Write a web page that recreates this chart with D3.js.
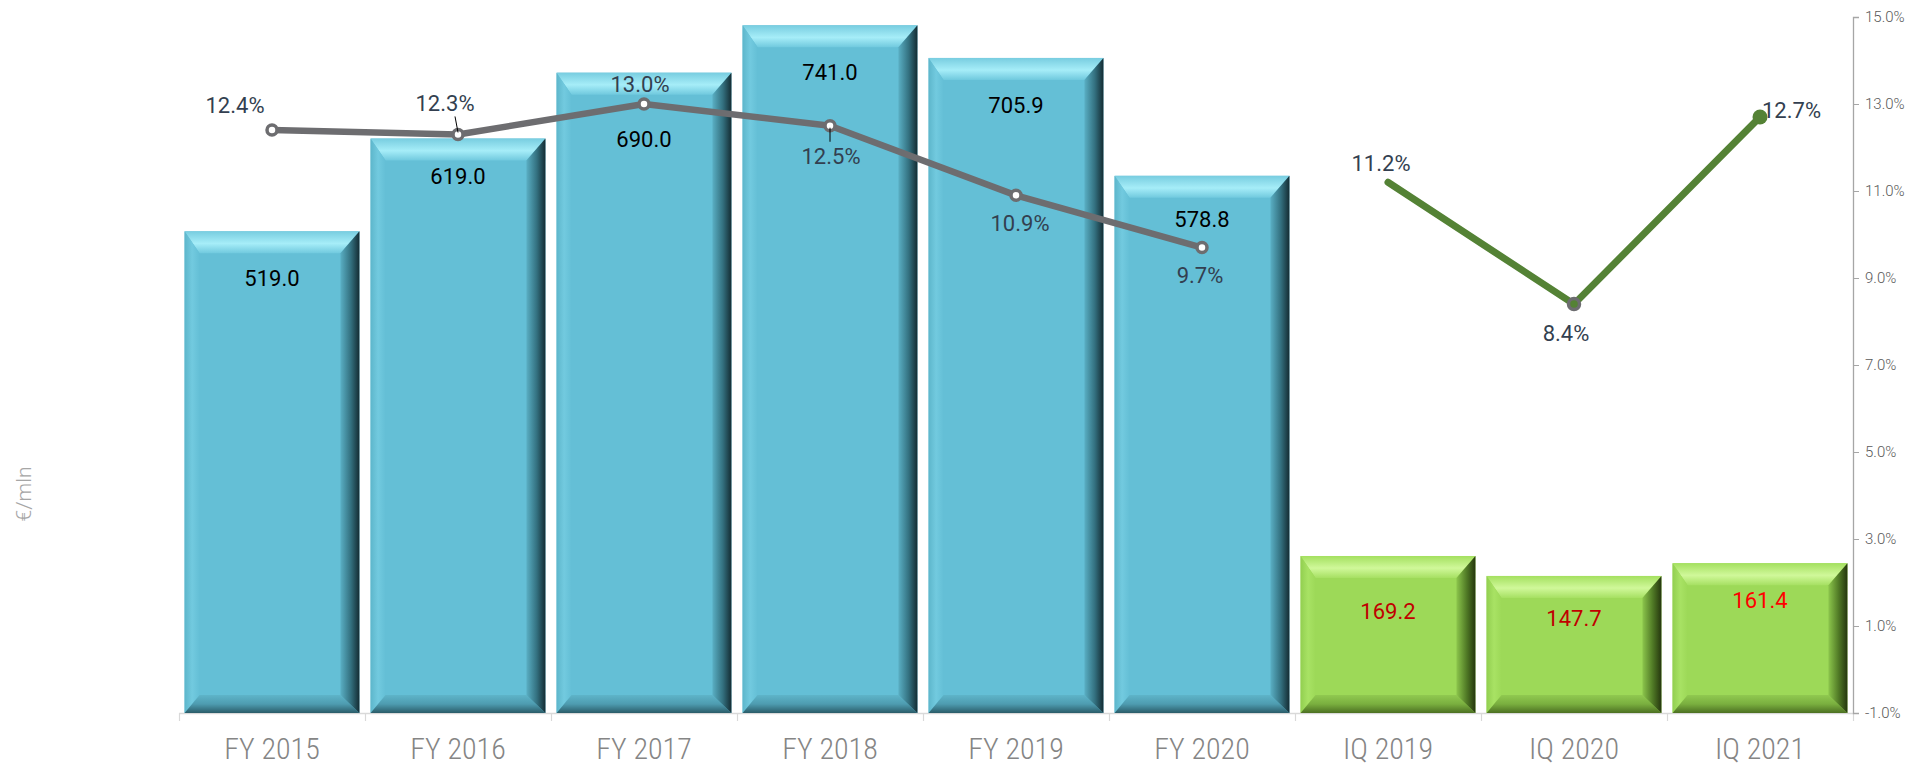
<!DOCTYPE html>
<html>
<head>
<meta charset="utf-8">
<title>Revenue and margin</title>
<script src="https://cdn.jsdelivr.net/npm/d3@7"></script>
<style>
  body { margin: 0; background: #fff; }
  text { font-family: Roboto, "Liberation Sans", sans-serif; }
</style>
</head>
<body>
<script>
// data
var categories = ["FY 2015", "FY 2016", "FY 2017", "FY 2018", "FY 2019", "FY 2020", "IQ 2019", "IQ 2020", "IQ 2021"];
var revenue = [519.0, 619.0, 690.0, 741.0, 705.9, 578.8, 169.2, 147.7, 161.4];
var yearMargin = [12.4, 12.3, 13.0, 12.5, 10.9, 9.7];
var quarterMargin = [11.2, 8.4, 12.7];
var rightTicks = [-1, 1, 3, 5, 7, 9, 11, 13, 15];

var w = 1923, h = 766,
    plotLeft = 179, plotRight = 1853, plotTop = 17, plotBottom = 713;

var x = d3.scaleBand().domain(categories).range([plotLeft, plotRight]).paddingInner(0.06).paddingOuter(0.03);
var band = d3.scaleBand().domain(categories).range([plotLeft, plotRight]);
var y = d3.scaleLinear().domain([0, 750]).range([plotBottom, plotTop]);
var yR = d3.scaleLinear().domain([-1, 15]).range([plotBottom, plotTop]);

var svg = d3.select("body").append("svg").attr("width", w).attr("height", h);
var defs = svg.append("defs");

function grad(id, x2, y2, stops) {
    var g = defs.append("linearGradient").attr("id", id)
        .attr("x1", 0).attr("y1", 0).attr("x2", x2).attr("y2", y2);
    stops.forEach(function(s) {
        g.append("stop").attr("offset", s[0]).attr("stop-color", s[1]);
    });
}

var faces = { blue: "#64bfd6", green: "#9dd958" };
grad("blueTop", 0, 1, [[0, "#78cde0"], [0.55, "#a6edf8"], [1, "#70c9de"]]);
grad("blueRight", 1, 0, [[0, "#5aafc4"], [0.55, "#33707f"], [1, "#142c33"]]);
grad("blueBottom", 0, 1, [[0, "#5eb4c9"], [0.5, "#4e9cb0"], [1, "#2a5c69"]]);
grad("blueLeft", 1, 0, [[0, "#5db6cb"], [0.5, "#72cadf"], [1, "#64bfd6"]]);
grad("greenTop", 0, 1, [[0, "#a4e05f"], [0.55, "#d0f89a"], [1, "#a6e062"]]);
grad("greenRight", 1, 0, [[0, "#8cc64c"], [0.55, "#4f7825"], [1, "#25360e"]]);
grad("greenBottom", 0, 1, [[0, "#90c950"], [0.5, "#7aaf3f"], [1, "#4c7022"]]);
grad("greenLeft", 1, 0, [[0, "#92cf50"], [0.5, "#a8e264"], [1, "#9dd958"]]);

// axes lines
svg.append("line")
    .attr("x1", plotLeft).attr("x2", plotRight).attr("y1", plotBottom + 0.5).attr("y2", plotBottom + 0.5)
    .style("stroke", "#d9d9d9").style("stroke-width", 1.5);
svg.selectAll("line.ctick")
    .data(categories.concat(["end"]))
  .enter().append("line")
    .attr("class", "ctick")
    .attr("x1", function(d, i) { return Math.round(plotLeft + i * band.bandwidth()) + 0.5; })
    .attr("x2", function(d, i) { return Math.round(plotLeft + i * band.bandwidth()) + 0.5; })
    .attr("y1", plotBottom).attr("y2", plotBottom + 8)
    .style("stroke", "#d9d9d9").style("stroke-width", 1.2);

// bars
var bars = svg.selectAll("g.bar")
    .data(revenue)
  .enter().append("g")
    .attr("class", "bar");

bars.each(function(d, i) {
    var g = d3.select(this),
        t = i < 6 ? "blue" : "green",
        x0 = x(categories[i]), x1 = x0 + x.bandwidth(),
        y0 = y(d), y1 = y(0),
        bt = 22, bb = 18, bl = 15, br = 19;
    g.append("rect").attr("x", x0).attr("y", y0).attr("width", x1 - x0).attr("height", y1 - y0)
        .style("fill", faces[t]);
    var polys = [
        ["Top", [[x0, y0], [x1, y0], [x1 - br, y0 + bt], [x0 + bl, y0 + bt]]],
        ["Left", [[x0, y0], [x0 + bl, y0 + bt], [x0 + bl, y1 - bb], [x0, y1]]],
        ["Bottom", [[x0, y1], [x0 + bl, y1 - bb], [x1 - br, y1 - bb], [x1, y1]]],
        ["Right", [[x1, y0], [x1, y1], [x1 - br, y1 - bb], [x1 - br, y0 + bt]]]
    ];
    polys.forEach(function(p) {
        g.append("polygon")
            .attr("points", p[1].map(function(q) { return q.join(","); }).join(" "))
            .style("fill", "url(#" + t + p[0] + ")");
    });
});

// bar value labels
var labelDrop = { 2: 67, 5: 43, 1: 38, 6: 55, 7: 42, 8: 37 };
var labelColors = ["#000", "#000", "#000", "#000", "#000", "#000", "#c00000", "#c00000", "#ff0000"];
svg.selectAll("text.val")
    .data(revenue)
  .enter().append("text")
    .attr("class", "val")
    .attr("x", function(d, i) { return x(categories[i]) + x.bandwidth() / 2; })
    .attr("y", function(d, i) { return y(d) + (labelDrop[i] || 47); })
    .attr("dy", "0.35em")
    .attr("text-anchor", "middle")
    .style("font-size", "22px")
    .style("fill", function(d, i) { return labelColors[i]; })
    .text(function(d) { return d.toFixed(1); });

// category labels
svg.selectAll("text.cat")
    .data(categories)
  .enter().append("text")
    .attr("class", "cat")
    .attr("x", function(d) { return band(d) + band.bandwidth() / 2; })
    .attr("y", 748)
    .attr("dy", "0.35em")
    .attr("text-anchor", "middle")
    .style("font-family", "'Roboto Condensed', Roboto, sans-serif")
    .style("font-weight", 300)
    .style("font-size", "30px")
    .style("fill", "#858585")
    .text(function(d) { return d; });

// right axis
var axisR = d3.axisRight(yR).tickValues(rightTicks).tickSize(6)
    .tickFormat(function(d) { return d.toFixed(1) + "%"; });
var ga = svg.append("g").attr("transform", "translate(" + plotRight + ",0)").call(axisR);
ga.select(".domain").style("stroke", "#a6a6a6").style("stroke-width", 1.3);
ga.selectAll(".tick line").style("stroke", "#a6a6a6");
ga.selectAll(".tick text").attr("x", 12)
    .style("font-size", "15px").style("font-weight", 300)
    .style("fill", "#595959").style("font-family", "Roboto, sans-serif");

// y title
svg.append("text")
    .attr("transform", "translate(24,494) rotate(-90)")
    .attr("text-anchor", "middle")
    .attr("dy", "0.35em")
    .style("font-size", "21px")
    .style("font-weight", 300)
    .style("fill", "#a6a6a6")
    .text("€/mln");

// margin lines
var cx = function(i, off) { return band(categories[i + off]) + band.bandwidth() / 2; };
var line = d3.line();

var yearPts = yearMargin.map(function(d, i) { return [cx(i, 0), yR(d)]; });
var qPts = quarterMargin.map(function(d, i) { return [cx(i, 6), yR(d)]; });

svg.append("path").attr("d", line(yearPts))
    .style("fill", "none").style("stroke", "#6d6d70").style("stroke-width", 6.5)
    .style("stroke-linejoin", "round");
svg.selectAll("circle.ym")
    .data(yearPts)
  .enter().append("circle")
    .attr("class", "ym")
    .attr("cx", function(d) { return d[0]; }).attr("cy", function(d) { return d[1]; })
    .attr("r", 5)
    .style("fill", "#fff").style("stroke", "#6d6d70").style("stroke-width", 3.5);

svg.append("path").attr("d", line(qPts))
    .style("fill", "none").style("stroke", "#548235").style("stroke-width", 7)
    .style("stroke-linecap", "round").style("stroke-linejoin", "round");
svg.append("circle").attr("cx", qPts[1][0]).attr("cy", qPts[1][1]).attr("r", 5.5)
    .style("fill", "#548235").style("stroke", "#6d6d70").style("stroke-width", 3.5);
svg.append("circle").attr("cx", qPts[2][0]).attr("cy", qPts[2][1]).attr("r", 7.5)
    .style("fill", "#548235");

// margin labels
var yearOff = [[-37, -25], [-13, -31], [-4, -20], [1, 31], [4, 28], [-2, 28]];
var qOff = [[-7, -19], [-8, 29], [2, -7]];

// leader lines
[[1, -1, -18], [3, 0, 16]].forEach(function(l) {
    var p = yearPts[l[0]];
    svg.append("line")
        .attr("x1", p[0]).attr("y1", p[1] - (l[2] < 0 ? 2 : -2))
        .attr("x2", p[0] + l[1] * 3).attr("y2", p[1] + l[2])
        .style("stroke", "#000").style("stroke-width", 1);
});

svg.selectAll("text.ym")
    .data(yearMargin)
  .enter().append("text")
    .attr("class", "ym")
    .attr("x", function(d, i) { return yearPts[i][0] + yearOff[i][0]; })
    .attr("y", function(d, i) { return yearPts[i][1] + yearOff[i][1]; })
    .attr("dy", "0.35em")
    .attr("text-anchor", "middle")
    .style("font-size", "22px")
    .style("fill", "#333f50")
    .text(function(d) { return d.toFixed(1) + "%"; });

svg.selectAll("text.qm")
    .data(quarterMargin)
  .enter().append("text")
    .attr("class", "qm")
    .attr("x", function(d, i) { return qPts[i][0] + qOff[i][0]; })
    .attr("y", function(d, i) { return qPts[i][1] + qOff[i][1]; })
    .attr("dy", "0.35em")
    .attr("text-anchor", function(d, i) { return i == 2 ? "start" : "middle"; })
    .style("font-size", "22px")
    .style("fill", "#333f50")
    .text(function(d) { return d.toFixed(1) + "%"; });
</script>
</body>
</html>
